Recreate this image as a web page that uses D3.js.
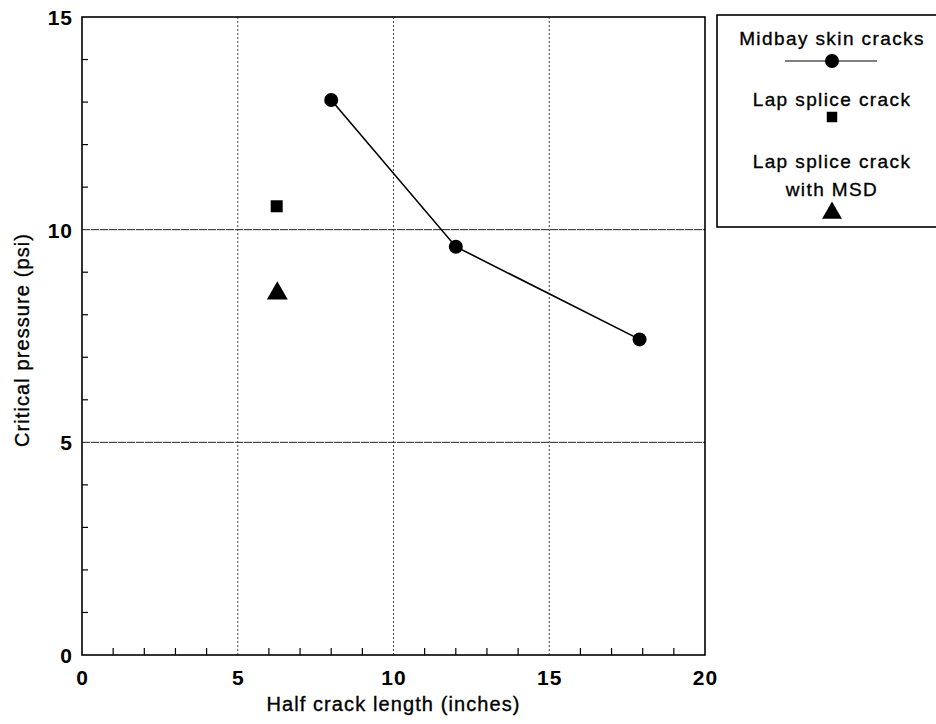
<!DOCTYPE html>
<html>
<head>
<meta charset="utf-8">
<script src="https://cdn.jsdelivr.net/npm/d3@7"></script>
<style>
  body { margin: 0; background: #fff; }
  svg text { font-family: "Liberation Sans", Arial, sans-serif; fill: #000; }
  .label { stroke: #000; stroke-width: 0.35px; }
</style>
</head>
<body>
<div id="vis"></div>
<script>
// data
var midbayX = [8.0, 12.0, 17.9];
var midbayY = [13.05, 9.6, 7.42];
var lapX = [6.25];
var lapY = [10.55];
var msdX = [6.27];
var msdY = [8.55];
var xTicks = [0, 5, 10, 15, 20];
var yTicks = [0, 5, 10, 15];
var legendLabels = ['Midbay skin cracks', 'Lap splice crack', 'Lap splice crack', 'with MSD'];

var width = 936;
var height = 724;
var margin = { left: 82, right: 231, top: 17, bottom: 69 };
var plotW = width - margin.left - margin.right;
var plotH = height - margin.top - margin.bottom;

var svg = d3.select('#vis')
  .append('svg')
  .attr('width', width)
  .attr('height', height);

var x = d3.scaleLinear().domain([0, 20]).range([0, plotW]);
var y = d3.scaleLinear().domain([0, 15]).range([plotH, 0]);

var g = svg.append('g')
  .attr('transform', 'translate(' + margin.left + ',' + margin.top + ')');

// grid lines
g.selectAll('.vgrid')
  .data([5, 10, 15])
  .enter()
  .append('line')
  .attr('x1', function (d) { return x(d); })
  .attr('x2', function (d) { return x(d); })
  .attr('y1', 0)
  .attr('y2', plotH)
  .attr('stroke', '#444')
  .attr('stroke-width', 1)
  .attr('stroke-dasharray', '2,2');

g.selectAll('.hgrid')
  .data([5, 10])
  .enter()
  .append('line')
  .attr('x1', 0)
  .attr('x2', plotW)
  .attr('y1', function (d) { return y(d); })
  .attr('y2', function (d) { return y(d); })
  .attr('stroke', '#222')
  .attr('stroke-width', 1)
  .attr('stroke-dasharray', '8,1');

// minor ticks pointing inward
var xMinor = d3.range(1, 20).filter(function (d) { return d % 5 !== 0; });
var yMinor = d3.range(1, 15).filter(function (d) { return d % 5 !== 0; });

g.selectAll('.xminor')
  .data(xMinor)
  .enter()
  .append('line')
  .attr('x1', function (d) { return x(d); })
  .attr('x2', function (d) { return x(d); })
  .attr('y1', plotH)
  .attr('y2', plotH - 7)
  .attr('stroke', '#000')
  .attr('stroke-width', 1.2);

g.selectAll('.yminor')
  .data(yMinor)
  .enter()
  .append('line')
  .attr('x1', 0)
  .attr('x2', 6)
  .attr('y1', function (d) { return y(d); })
  .attr('y2', function (d) { return y(d); })
  .attr('stroke', '#000')
  .attr('stroke-width', 1.2);

// frame
g.append('rect')
  .attr('width', plotW)
  .attr('height', plotH)
  .attr('fill', 'none')
  .attr('stroke', '#000')
  .attr('stroke-width', 1.6);

// axes (labels only)
var xAxis = d3.axisBottom(x).tickValues(xTicks).tickSize(0).tickPadding(15);
var yAxis = d3.axisLeft(y).tickValues(yTicks).tickSize(0).tickPadding(9);

g.append('g')
  .attr('transform', 'translate(0,' + plotH + ')')
  .call(xAxis)
  .call(function (a) { a.select('.domain').remove(); })
  .selectAll('text')
  .style('font-size', '21px')
  .style('font-weight', 'bold')
  .style('letter-spacing', '1px');

g.append('g')
  .call(yAxis)
  .call(function (a) { a.select('.domain').remove(); })
  .selectAll('text')
  .attr('dy', '0.36em')
  .style('font-size', '21px')
  .style('font-weight', 'bold')
  .style('letter-spacing', '1px');

svg.append('text')
  .attr('class', 'label')
  .attr('x', margin.left + x(10))
  .attr('y', 711)
  .attr('text-anchor', 'middle')
  .style('font-size', '20px')
  .style('letter-spacing', '1.1px')
  .text('Half crack length (inches)');

svg.append('text')
  .attr('class', 'label')
  .attr('transform', 'translate(29,' + 340 + ') rotate(-90)')
  .attr('text-anchor', 'middle')
  .style('font-size', '20px')
  .style('letter-spacing', '1.1px')
  .text('Critical pressure (psi)');

// midbay series
var midbay = midbayX.map(function (d, i) { return { x: d, y: midbayY[i] }; });

var line = d3.line()
  .x(function (d) { return x(d.x); })
  .y(function (d) { return y(d.y); });

g.append('path')
  .datum(midbay)
  .attr('d', line)
  .attr('fill', 'none')
  .attr('stroke', '#000')
  .attr('stroke-width', 1.6);

g.selectAll('.midbay')
  .data(midbay)
  .enter()
  .append('circle')
  .attr('cx', function (d) { return x(d.x); })
  .attr('cy', function (d) { return y(d.y); })
  .attr('r', 7)
  .attr('fill', '#000');

var sq = d3.symbol().type(d3.symbolSquare).size(144);
var tri = d3.symbol().type(d3.symbolTriangle).size(190);

g.selectAll('.lap')
  .data(lapX)
  .enter()
  .append('path')
  .attr('d', sq)
  .attr('transform', function (d, i) { return 'translate(' + x(d) + ',' + y(lapY[i]) + ')'; })
  .attr('fill', '#000');

g.selectAll('.msd')
  .data(msdX)
  .enter()
  .append('path')
  .attr('d', tri)
  .attr('transform', function (d, i) { return 'translate(' + x(d) + ',' + (y(msdY[i]) + 2) + ')'; })
  .attr('fill', '#000');

// legend
var legend = svg.append('g');
legend.append('rect')
  .attr('x', 717)
  .attr('y', 15)
  .attr('width', 230)
  .attr('height', 212)
  .attr('fill', 'none')
  .attr('stroke', '#000')
  .attr('stroke-width', 1.6);

var lx = 832;
var labelY = [45, 106, 168, 196];
legend.selectAll('.ltext')
  .data(legendLabels)
  .enter()
  .append('text')
  .attr('class', 'label')
  .attr('x', lx)
  .attr('y', function (d, i) { return labelY[i]; })
  .attr('text-anchor', 'middle')
  .style('font-size', '19px')
  .style('letter-spacing', '1.4px')
  .text(function (d) { return d; });

legend.append('line')
  .attr('x1', 785).attr('x2', 877)
  .attr('y1', 61).attr('y2', 61)
  .attr('stroke', '#000')
  .attr('stroke-width', 1.2);
legend.append('circle')
  .attr('cx', lx).attr('cy', 61).attr('r', 7)
  .attr('fill', '#000');
legend.append('path')
  .attr('d', d3.symbol().type(d3.symbolSquare).size(110))
  .attr('transform', 'translate(' + lx + ',117)')
  .attr('fill', '#000');
legend.append('path')
  .attr('d', d3.symbol().type(d3.symbolTriangle).size(170))
  .attr('transform', 'translate(' + lx + ',213)')
  .attr('fill', '#000');
</script>
</body>
</html>
